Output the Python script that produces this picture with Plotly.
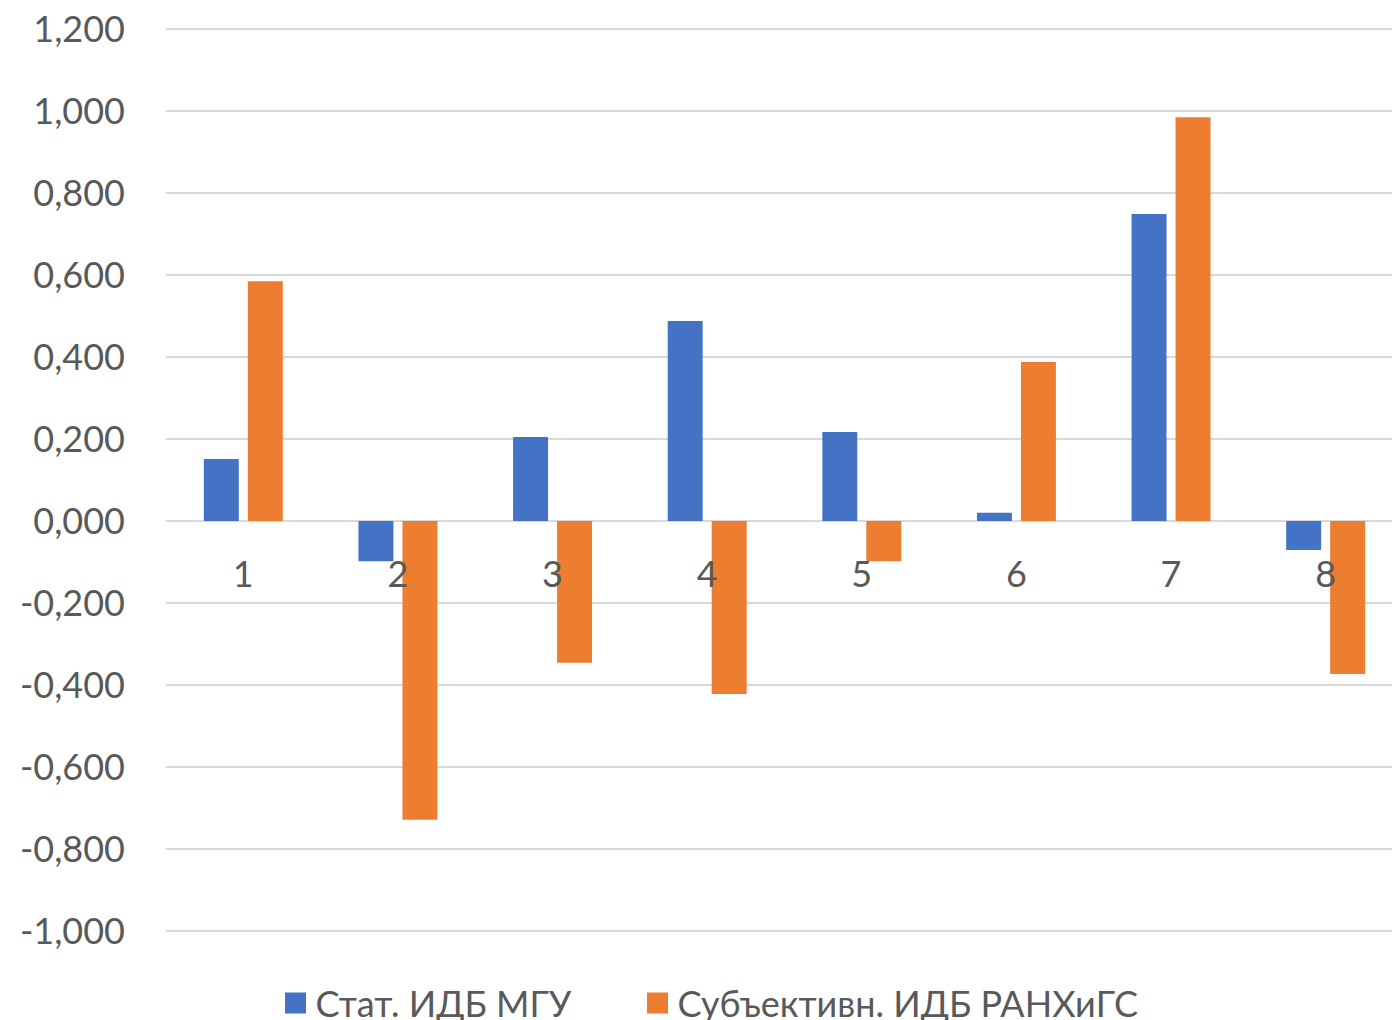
import plotly.graph_objects as go

categories = ["1", "2", "3", "4", "5", "6", "7", "8"]
stat_mgu = [0.151, -0.098, 0.205, 0.488, 0.217, 0.020, 0.749, -0.071]
subj_ranepa = [0.585, -0.729, -0.346, -0.422, -0.098, 0.388, 0.985, -0.373]
series_names = ["Стат. ИДБ МГУ", "Субъективн. ИДБ РАНХиГС"]
series_colors = ["#4472C4", "#ED7D31"]
y_tickvals = [-1.0, -0.8, -0.6, -0.4, -0.2, 0.0, 0.2, 0.4, 0.6, 0.8, 1.0, 1.2]
y_ticktext = ["-1,000", "-0,800", "-0,600", "-0,400", "-0,200", "0,000",
              "0,200", "0,400", "0,600", "0,800", "1,000", "1,200"]

xpos = list(range(len(categories)))
FONT = "Lato"
TXT = "#595959"
GRID = "#D9D9D9"

W, H = 1392, 1020
L, T, B = 166, 27, 87
plot_w = W - L
plot_h = H - T - B
Y0, Y1 = -1.005, 1.205

fig = go.Figure()
for name, vals, col in zip(series_names, [stat_mgu, subj_ranepa], series_colors):
    fig.add_trace(go.Bar(x=xpos, y=vals, name=name, showlegend=False,
                         marker=dict(color=col, line=dict(width=0))))
# legend entries with larger square symbols, one legend per series
for i, (name, col) in enumerate(zip(series_names, series_colors)):
    fig.add_trace(go.Scatter(x=[None], y=[None], mode="markers", name=name,
                             legend="legend" if i == 0 else "legend2",
                             marker=dict(symbol="square", size=16, color=col,
                                         line=dict(color=col, width=5)),
                             hoverinfo="skip"))

leg_y = -(973 - (H - B)) / plot_h
leg_common = dict(orientation="h", xanchor="left", yanchor="top", y=leg_y,
                  font=dict(family=FONT, size=36, color=TXT),
                  bgcolor="rgba(0,0,0,0)")

fig.update_layout(
    width=W, height=H,
    margin=dict(l=L, r=0, t=T, b=B, autoexpand=False),
    paper_bgcolor="white", plot_bgcolor="white",
    barmode="group", bargap=0.431, bargroupgap=0.205,
    font=dict(family=FONT, color=TXT, size=36),
    showlegend=True,
    legend=dict(x=(275.5 - L) / plot_w, **leg_common),
    legend2=dict(x=(637.5 - L) / plot_w, **leg_common),
    xaxis=dict(range=[-0.5, 7.5 - (1403 - 1392) / 154.7],
               tickvals=xpos, ticktext=categories,
               anchor="free", position=(0 - Y0) / (Y1 - Y0),
               showgrid=False, zeroline=False, showline=False,
               ticks="", tickfont=dict(size=36, color=TXT),
               ticklabelstandoff=29),
    yaxis=dict(range=[Y0, Y1], tickvals=y_tickvals, ticktext=y_ticktext,
               showgrid=True, gridcolor=GRID, gridwidth=2,
               zeroline=True, zerolinecolor=GRID, zerolinewidth=2,
               showline=False, ticks="", ticklabelstandoff=40,
               tickfont=dict(size=36, color=TXT)),
)

fig.write_html("out.html", config={"displayModeBar": False},
               post_script="document.body.style.margin='0';")
